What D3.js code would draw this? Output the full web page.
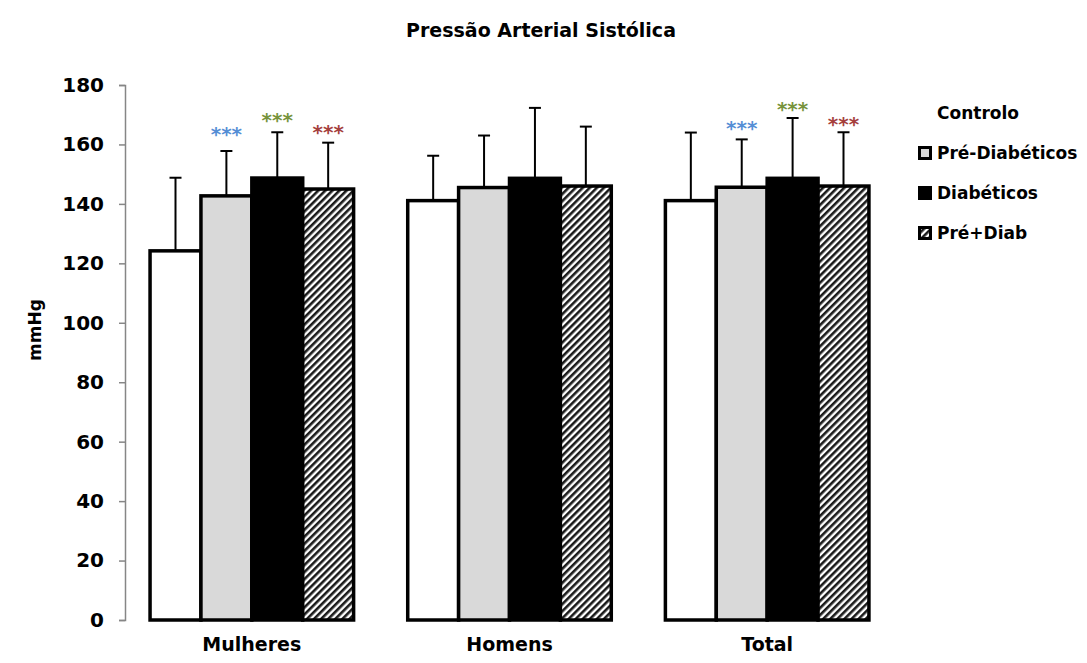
<!DOCTYPE html>
<html>
<head>
<meta charset="utf-8">
<script src="https://cdn.jsdelivr.net/npm/d3@7"></script>
<style>
  body { margin: 0; background: #fff; }
  text { font-family: "DejaVu Sans", sans-serif; font-weight: bold; }
</style>
</head>
<body>
<div id="chart"></div>
<script>
const groups = ["Mulheres", "Homens", "Total"]
const series = ["Controlo", "Pré-Diabéticos", "Diabéticos", "Pré+Diab"]
// mean values per series, in group order
const controlo = [124.2, 141.1, 141.1]
const preDiab = [142.7, 145.5, 145.6]
const diab = [148.7, 148.6, 148.6]
const preMaisDiab = [145.0, 146.0, 146.0]
// top of the error bar per series
const controloErr = [148.8, 156.2, 164.0]
const preDiabErr = [157.8, 163.0, 161.7]
const diabErr = [164.1, 172.3, 168.9]
const preMaisDiabErr = [160.6, 166.0, 164.1]
// significance marks: group, series, y value where the mark sits
const marks = [
  {group: "Mulheres", serie: "Pré-Diabéticos", y: 165.5},
  {group: "Mulheres", serie: "Diabéticos", y: 170.3},
  {group: "Mulheres", serie: "Pré+Diab", y: 166.2},
  {group: "Total", serie: "Pré-Diabéticos", y: 167.6},
  {group: "Total", serie: "Diabéticos", y: 174.0},
  {group: "Total", serie: "Pré+Diab", y: 168.9},
]
const yTicks = [0, 20, 40, 60, 80, 100, 120, 140, 160, 180]

const means = [controlo, preDiab, diab, preMaisDiab]
const errs = [controloErr, preDiabErr, diabErr, preMaisDiabErr]

const data = []
groups.forEach((g, gi) => {
  series.forEach((s, si) => {
    data.push({group: g, serie: s, value: means[si][gi], err: errs[si][gi]})
  })
})

const fills = {
  "Controlo": "#ffffff",
  "Pré-Diabéticos": "#d9d9d9",
  "Diabéticos": "#000000",
  "Pré+Diab": "url(#hatch)"
}
const markColors = {
  "Pré-Diabéticos": "#558ed5",
  "Diabéticos": "#77933c",
  "Pré+Diab": "#a5403d"
}

let dimensions = {
  width: 1087,
  height: 663,
  margin: {top: 85, right: 197, bottom: 43, left: 125},
}
dimensions.boundedWidth = dimensions.width - dimensions.margin.left - dimensions.margin.right
dimensions.boundedHeight = dimensions.height - dimensions.margin.top - dimensions.margin.bottom

const svg = d3.select("#chart").append("svg")
  .attr("width", dimensions.width)
  .attr("height", dimensions.height)

const defs = svg.append("defs")
const pat = defs.append("pattern")
  .attr("id", "hatch")
  .attr("patternUnits", "userSpaceOnUse")
  .attr("width", 5)
  .attr("height", 5)
  .attr("patternTransform", "rotate(45)")
pat.append("rect").attr("width", 5).attr("height", 5).attr("fill", "#ffffff")
pat.append("rect").attr("width", 2.6).attr("height", 5).attr("fill", "#1a1a1a")

const bounds = svg.append("g")
  .attr("transform", `translate(${dimensions.margin.left},${dimensions.margin.top})`)

let x0 = d3.scaleBand()
  .domain(groups)
  .range([-2, dimensions.boundedWidth + 6])
  .paddingInner(0.21)
  .paddingOuter(0.105)

let x1 = d3.scaleBand()
  .domain(series)
  .range([0, x0.bandwidth()])

let y = d3.scaleLinear()
  .domain([0, 180])
  .range([dimensions.boundedHeight, 0])

// y axis
const yAxis = bounds.append("g")
  .call(d3.axisLeft(y).tickValues(yTicks).tickSize(6).tickPadding(15))
yAxis.select(".domain").attr("stroke", "#868686").attr("stroke-width", 1.5)
yAxis.selectAll(".tick line").attr("stroke", "#868686").attr("stroke-width", 1.5)
yAxis.selectAll(".tick text")
  .attr("font-size", 20)
  .attr("font-family", "DejaVu Sans")
  .attr("font-weight", "bold")
  .attr("fill", "#000")

// error bars (upper only)
const errG = bounds.append("g")
data.forEach(d => {
  const cx = x0(d.group) + x1(d.serie) + x1.bandwidth() / 2
  errG.append("line")
    .attr("x1", cx).attr("x2", cx)
    .attr("y1", y(d.value)).attr("y2", y(d.err))
    .attr("stroke", "#000").attr("stroke-width", 2)
  errG.append("line")
    .attr("x1", cx - 6).attr("x2", cx + 6)
    .attr("y1", y(d.err)).attr("y2", y(d.err))
    .attr("stroke", "#000").attr("stroke-width", 2)
})

// bars
bounds.append("g").selectAll("rect")
  .data(data)
  .join("rect")
  .attr("x", d => x0(d.group) + x1(d.serie))
  .attr("y", d => y(d.value))
  .attr("width", x1.bandwidth())
  .attr("height", d => y(0) - y(d.value))
  .attr("fill", d => fills[d.serie])
  .attr("stroke", "#000")
  .attr("stroke-width", 3.5)

// significance marks
bounds.append("g").selectAll("text")
  .data(marks)
  .join("text")
  .attr("x", d => x0(d.group) + x1(d.serie) + x1.bandwidth() / 2)
  .attr("y", d => y(d.y) + 13)
  .attr("text-anchor", "middle")
  .attr("font-size", 20)
  .attr("fill", d => markColors[d.serie])
  .text("***")

// category labels
bounds.append("g").selectAll("text")
  .data(groups)
  .join("text")
  .attr("x", d => x0(d) + x0.bandwidth() / 2)
  .attr("y", dimensions.boundedHeight + 31)
  .attr("text-anchor", "middle")
  .attr("font-size", 19)
  .text(d => d)

// title
svg.append("text")
  .attr("x", 541)
  .attr("y", 37)
  .attr("text-anchor", "middle")
  .attr("font-size", 19)
  .text("Pressão Arterial Sistólica")

// y label
svg.append("text")
  .attr("transform", "translate(41,330) rotate(-90)")
  .attr("text-anchor", "middle")
  .attr("font-size", 17)
  .text("mmHg")

// legend
const legend = svg.append("g").attr("transform", "translate(918,113)")
series.forEach((s, i) => {
  const row = legend.append("g").attr("transform", `translate(0,${i * 40})`)
  if (s != "Controlo") {
    row.append("rect")
      .attr("x", 1.5).attr("y", -5.5)
      .attr("width", 11).attr("height", 11)
      .attr("fill", fills[s])
      .attr("stroke", "#000")
      .attr("stroke-width", 3)
  }
  row.append("text")
    .attr("x", 19)
    .attr("y", 6)
    .attr("font-size", 17)
    .text(s)
})
</script>
</body>
</html>
